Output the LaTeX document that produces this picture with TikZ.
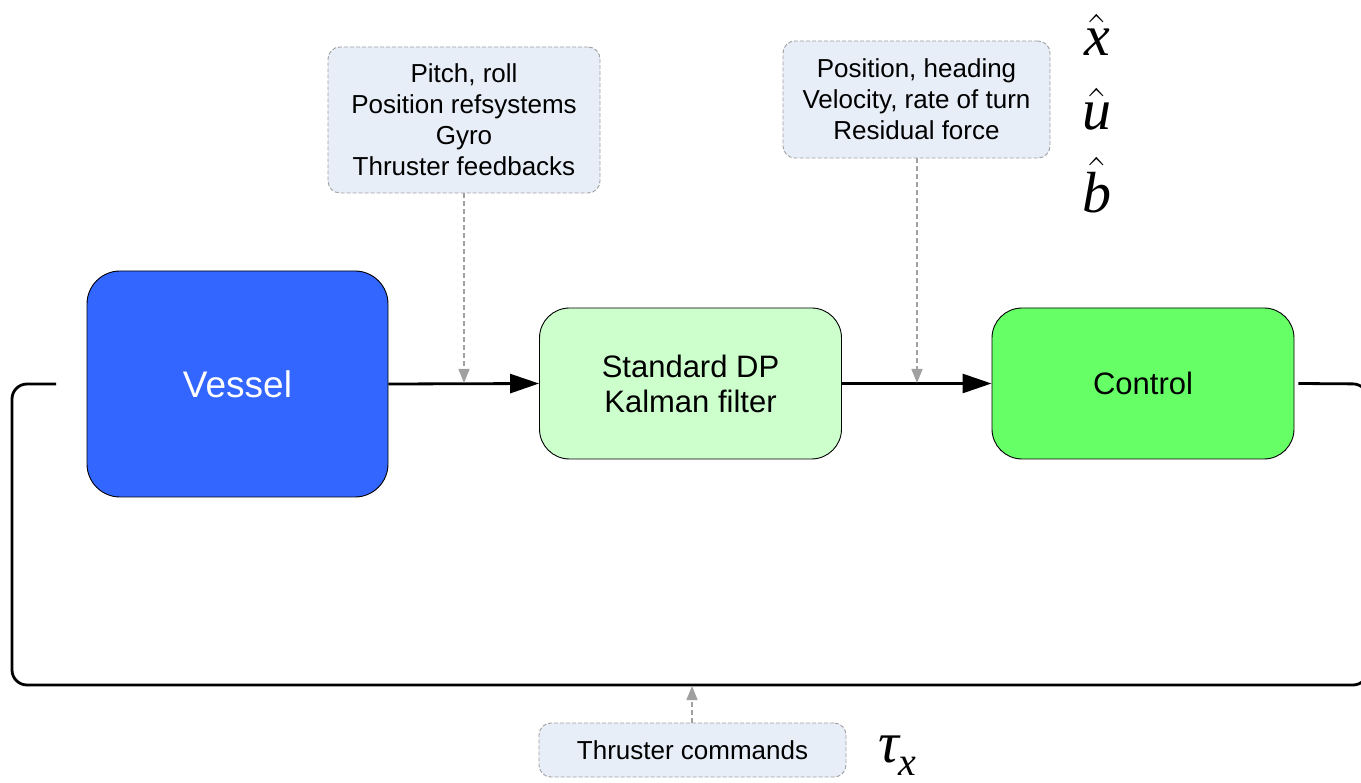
\RequirePackage{fix-cm}
\documentclass[tikz,border=0pt]{standalone}
\usepackage{fontspec}
\setmainfont{Liberation Sans}
\newfontfamily\tms{Liberation Serif}
\usetikzlibrary{arrows.meta}
\definecolor{vesselc}{HTML}{3366FF}
\definecolor{kalmanc}{HTML}{CCFFCC}
\definecolor{controlc}{HTML}{66FF66}
\definecolor{infofill}{HTML}{E8EEF8}
\definecolor{infoline}{HTML}{A0A0A0}
\newcommand{\myhat}[1]{$\hat{\mbox{#1}}$}
\begin{document}
\begin{tikzpicture}[x=1pt,y=-1pt,
  block/.style={draw=black, line width=0.9pt, rounded corners=30pt, minimum width=302pt, minimum height=151pt, inner sep=0pt, align=center, font=\fontsize{31}{35}\selectfont},
  info/.style={draw=infoline, dash pattern=on 4pt off 2pt, fill=infofill, rounded corners=12pt, inner sep=0pt, align=center, font=\fontsize{26}{31}\selectfont, line width=0.9pt},
  flow/.style={line width=2.8pt, -{Triangle[length=29pt,width=19pt]}},
  feed/.style={draw=infoline, line width=1.4pt, dash pattern=on 5pt off 3pt, -{Triangle[length=14pt,width=11pt]}},
  loopline/.style={line width=2.8pt, rounded corners=15pt},
  mathlbl/.style={font=\tms\itshape\fontsize{58}{58}\selectfont, inner sep=0pt}]
\clip (0,0) rectangle (1361,783);
\useasboundingbox (0,0) rectangle (1361,783);

\node[block, fill=vesselc, text=white, minimum width=301pt, minimum height=226pt, rounded corners=33pt, font=\fontsize{37}{40}\selectfont] (vessel) at (237.5,384) {Vessel};
\node[block, fill=kalmanc] (kalman) at (690.5,383.5) {Standard DP\\Kalman filter};
\node[block, fill=controlc] (control) at (1143,383.5) {Control};

\node[info, minimum width=272pt, minimum height=146pt] (info1) at (464,120) {Pitch, roll\\Position refsystems\\Gyro\\Thruster feedbacks};
\node[info, minimum width=267pt, minimum height=117pt] (info2) at (916.5,99.5) {Position, heading\\Velocity, rate of turn\\Residual force};
\node[info, minimum width=307pt, minimum height=54pt] (info3) at (692.5,750) {Thruster commands};

\draw[flow] (vessel.east) -- (kalman.west);
\draw[flow] (kalman.east) -- (control.west);

\coordinate (r1) at (1368,384);
\coordinate (r2) at (1368,685);
\coordinate (l1) at (12,685);
\coordinate (l2) at (12,384);
\coordinate (lend) at (56,384);
\draw[loopline] ([xshift=4pt]control.east) -- (r1) -- (r2) -- (l1) -- (l2) -- (lend);

\coordinate (j1) at (464,383);
\coordinate (j2) at (917,383);
\coordinate (j3) at (692,686);
\draw[feed] (info1.south -| j1) -- (j1);
\draw[feed] (info2.south -| j2) -- (j2);
\draw[feed] (info3.north -| j3) -- (j3);

\node[mathlbl, anchor=base] (xhat) at (1097,56) {\myhat{x}};
\node[mathlbl, anchor=base] (uhat) at (1097,130) {\myhat{u}};
\node[mathlbl, anchor=base] (bhat) at (1097,213) {\myhat{b}};
\node[mathlbl, anchor=base west] (taux) at (878,762) {τ\raisebox{-13pt}{\fontsize{40}{40}\selectfont x}};
\end{tikzpicture}
\end{document}
